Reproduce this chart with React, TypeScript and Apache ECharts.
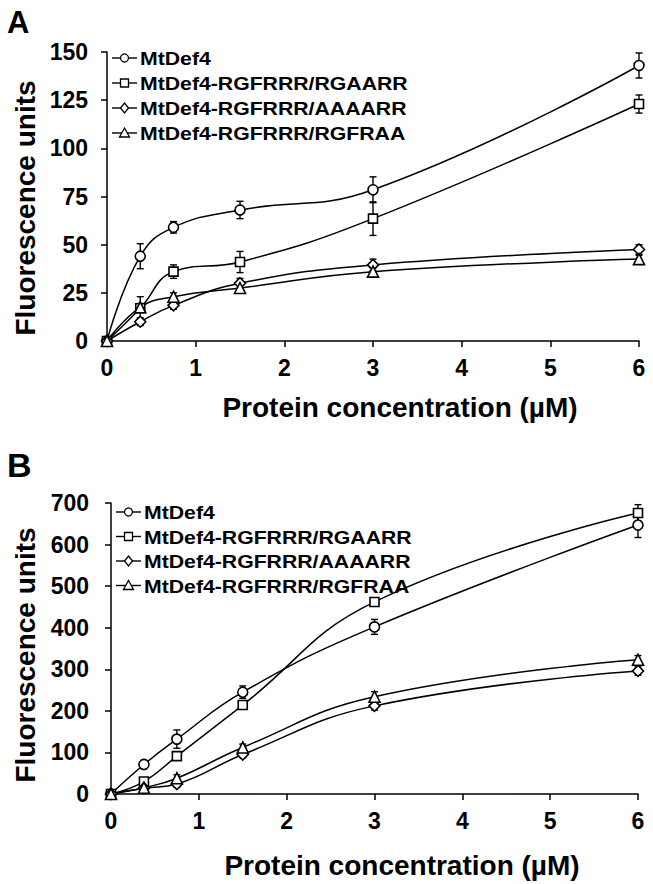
import React, { useEffect, useRef } from "react";
import * as echarts from "echarts";

const concentrations = [0, 0.375, 0.75, 1.5, 3, 6];
const seriesNames = [
  "MtDef4",
  "MtDef4-RGFRRR/RGAARR",
  "MtDef4-RGFRRR/AAAARR",
  "MtDef4-RGFRRR/RGFRAA",
];
const symbols = ["circle", "rect", "diamond", "triangle"];
const symbolSizes = [10, 9, 11, 11];

const panelAValues = [
  [0, 44, 59, 68, 78.5, 143],
  [0, 17, 36, 41, 63.5, 123],
  [0, 10, 18.5, 30, 39.5, 47.5],
  [0, 17.5, 23, 27.5, 36, 42.5],
];
const panelAErrors = [
  [0, 6.5, 3, 4.5, 6.7, 6.5],
  [0, 6, 3.5, 5.5, 8.7, 4.7],
  [0, 2, 2, 2.5, 3, 2.5],
  [0, 2, 2, 2, 2, 2],
];
const panelBValues = [
  [0, 71, 132, 245, 402, 647],
  [0, 30, 91, 214, 462, 676],
  [0, 14, 24, 95, 212, 296],
  [0, 15, 38, 112, 234, 323],
];
const panelBErrors = [
  [0, 10, 22, 15, 18, 30],
  [0, 8, 8, 10, 8, 20],
  [0, 5, 8, 8, 10, 10],
  [0, 5, 8, 8, 12, 10],
];

const yAxisA = { min: 0, max: 150, interval: 25 };
const yAxisB = { min: 0, max: 700, interval: 100 };
const xAxisRange = { min: 0, max: 6, interval: 1 };

const panelLabels = ["A", "B"];
const xTitle = "Protein concentration (µM)";
const yTitle = "Fluorescence units";

const FONT = "'Liberation Sans', Arial, Helvetica, sans-serif";

function errorRender(params: any, api: any) {
  const x = api.value(0);
  const y = api.value(1);
  const e = api.value(2);
  if (!e) return { type: "group", children: [] };
  const top = api.coord([x, y + e]);
  const bot = api.coord([x, y - e]);
  const hw = 3.5;
  const st = { stroke: "#000", lineWidth: 1.4 };
  return {
    type: "group",
    children: [
      { type: "line", shape: { x1: top[0], y1: top[1], x2: bot[0], y2: bot[1] }, style: st },
      { type: "line", shape: { x1: top[0] - hw, y1: top[1], x2: top[0] + hw, y2: top[1] }, style: st },
      { type: "line", shape: { x1: bot[0] - hw, y1: bot[1], x2: bot[0] + hw, y2: bot[1] }, style: st },
    ],
  };
}

function legendMarker(sym: string, cx: number, cy: number) {
  const style = { fill: "#fff", stroke: "#000", lineWidth: 1.3 };
  if (sym === "circle") return { type: "circle", shape: { cx, cy, r: 4 }, style };
  if (sym === "rect") return { type: "rect", shape: { x: cx - 4, y: cy - 4, width: 8, height: 8 }, style };
  if (sym === "diamond")
    return { type: "polygon", shape: { points: [[cx, cy - 5], [cx + 4, cy], [cx, cy + 5], [cx - 4, cy]] }, style };
  return { type: "polygon", shape: { points: [[cx, cy - 5], [cx + 5, cy + 4], [cx - 5, cy + 4]] }, style };
}

function buildLegend(x0: number, y0: number, gap: number) {
  const children: any[] = [];
  seriesNames.forEach((name, i) => {
    const y = y0 + i * gap;
    children.push({ type: "line", shape: { x1: x0, y1: y, x2: x0 + 25, y2: y }, style: { stroke: "#000", lineWidth: 1.4 } });
    children.push(legendMarker(symbols[i], x0 + 12.5, y));
    children.push({
      type: "text",
      x: x0 + 28,
      y: y + 1,
      scaleX: 1.18,
      style: {
        text: name,
        fill: "#000",
        font: `bold 18px ${FONT}`,
        textAlign: "left",
        textVerticalAlign: "middle",
      },
    });
  });
  return children;
}

export default function App() {
  const ref = useRef<HTMLDivElement>(null);
  useEffect(() => {
    if (!ref.current) return;
    const chart = echarts.init(ref.current, undefined, { renderer: "svg" });

    const axisLabel = (margin: number) => ({
      color: "#000",
      fontSize: 23,
      fontWeight: "bold",
      fontFamily: FONT,
      margin,
    });
    const axisLine = { show: true, lineStyle: { color: "#000", width: 1.5 } };
    const axisTick = { show: true, inside: false, length: 6, lineStyle: { color: "#000", width: 1.5 } };

    const makeX = (gridIndex: number) => ({
      type: "value",
      gridIndex,
      ...xAxisRange,
      axisLine,
      axisTick,
      splitLine: { show: false },
      axisLabel: axisLabel(15),
    });
    const makeY = (gridIndex: number, range: any, margin: number) => ({
      type: "value",
      gridIndex,
      ...range,
      axisLine,
      axisTick,
      splitLine: { show: false },
      axisLabel: axisLabel(margin),
    });

    const series: any[] = [];
    const panels = [
      { vals: panelAValues, errs: panelAErrors },
      { vals: panelBValues, errs: panelBErrors },
    ];
    panels.forEach((p, gi) => {
      p.vals.forEach((vals, si) => {
        series.push({
          type: "custom",
          name: seriesNames[si] + " error",
          xAxisIndex: gi,
          yAxisIndex: gi,
          renderItem: errorRender,
          encode: { x: 0, y: 1 },
          data: concentrations.map((c, k) => [c, vals[k], p.errs[si][k]]),
          z: 3,
          silent: true,
        });
        series.push({
          type: "line",
          name: seriesNames[si],
          xAxisIndex: gi,
          yAxisIndex: gi,
          smooth: 0.45,
          symbol: symbols[si],
          symbolSize: symbolSizes[si],
          showAllSymbol: true,
          lineStyle: { color: "#000", width: 1.5 },
          itemStyle: { color: "#fff", borderColor: "#000", borderWidth: 1.6 },
          data: concentrations.map((c, k) => [c, vals[k]]),
          z: 4,
        });
      });
    });

    const titleFont = `bold 28px ${FONT}`;
    const graphic: any[] = [
      { type: "text", x: 7, y: 7, style: { text: panelLabels[0], font: `bold 31px ${FONT}`, fill: "#000" } },
      { type: "text", x: 7, y: 448, style: { text: panelLabels[1], font: `bold 34px ${FONT}`, fill: "#000" } },
      { type: "text", x: 25, y: 208, rotation: Math.PI / 2, style: { text: yTitle, font: titleFont, fill: "#000", textAlign: "center", textVerticalAlign: "middle" } },
      { type: "text", x: 25, y: 655, rotation: Math.PI / 2, style: { text: yTitle, font: titleFont, fill: "#000", textAlign: "center", textVerticalAlign: "middle" } },
      { type: "text", x: 400, y: 407, style: { text: xTitle, font: titleFont, fill: "#000", textAlign: "center", textVerticalAlign: "middle" } },
      { type: "text", x: 402, y: 865, style: { text: xTitle, font: titleFont, fill: "#000", textAlign: "center", textVerticalAlign: "middle" } },
      ...buildLegend(112, 58, 25),
      ...buildLegend(116, 512, 24.5),
    ];

    chart.setOption({
      animation: false,
      backgroundColor: "#fff",
      grid: [
        { left: 107, top: 52, width: 532, height: 289 },
        { left: 111, top: 503, width: 527, height: 291 },
      ],
      xAxis: [makeX(0), makeX(1)],
      yAxis: [makeY(0, yAxisA, 19), makeY(1, yAxisB, 22)],
      series,
      graphic,
    });
    return () => chart.dispose();
  }, []);
  return <div ref={ref} style={{ position: "absolute", left: 0, top: 0, width: 653, height: 884 }} />;
}
